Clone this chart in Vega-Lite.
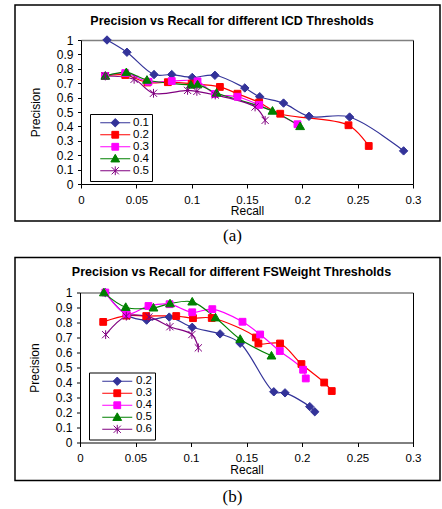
{
  "$schema": "https://vega.github.io/schema/vega-lite/v6.json",
  "padding": {"left": 14, "top": 4, "right": 0, "bottom": 0},
  "background": "white",
  "datasets": {
    "icd": [
      {"t": "0.1", "recall": 0.0235, "precision": 1.0},
      {"t": "0.1", "recall": 0.0415, "precision": 0.915},
      {"t": "0.1", "recall": 0.066, "precision": 0.76},
      {"t": "0.1", "recall": 0.082, "precision": 0.76},
      {"t": "0.1", "recall": 0.1005, "precision": 0.74},
      {"t": "0.1", "recall": 0.121, "precision": 0.755},
      {"t": "0.1", "recall": 0.148, "precision": 0.667},
      {"t": "0.1", "recall": 0.1615, "precision": 0.606},
      {"t": "0.1", "recall": 0.183, "precision": 0.562},
      {"t": "0.1", "recall": 0.206, "precision": 0.47},
      {"t": "0.1", "recall": 0.2427, "precision": 0.465},
      {"t": "0.1", "recall": 0.2915, "precision": 0.23},
      {"t": "0.2", "recall": 0.0217, "precision": 0.75},
      {"t": "0.2", "recall": 0.04, "precision": 0.757},
      {"t": "0.2", "recall": 0.06, "precision": 0.705},
      {"t": "0.2", "recall": 0.0785, "precision": 0.707},
      {"t": "0.2", "recall": 0.1, "precision": 0.697},
      {"t": "0.2", "recall": 0.1255, "precision": 0.674},
      {"t": "0.2", "recall": 0.1414, "precision": 0.627},
      {"t": "0.2", "recall": 0.161, "precision": 0.566},
      {"t": "0.2", "recall": 0.18, "precision": 0.488},
      {"t": "0.2", "recall": 0.2417, "precision": 0.408},
      {"t": "0.2", "recall": 0.26, "precision": 0.264},
      {"t": "0.3", "recall": 0.0217, "precision": 0.75},
      {"t": "0.3", "recall": 0.04, "precision": 0.77},
      {"t": "0.3", "recall": 0.061, "precision": 0.71},
      {"t": "0.3", "recall": 0.082, "precision": 0.715},
      {"t": "0.3", "recall": 0.1053, "precision": 0.713},
      {"t": "0.3", "recall": 0.121, "precision": 0.625},
      {"t": "0.3", "recall": 0.1414, "precision": 0.606},
      {"t": "0.3", "recall": 0.161, "precision": 0.549},
      {"t": "0.3", "recall": 0.1956, "precision": 0.415},
      {"t": "0.4", "recall": 0.022, "precision": 0.75},
      {"t": "0.4", "recall": 0.041, "precision": 0.775},
      {"t": "0.4", "recall": 0.0596, "precision": 0.722},
      {"t": "0.4", "recall": 0.0993, "precision": 0.688},
      {"t": "0.4", "recall": 0.1053, "precision": 0.69},
      {"t": "0.4", "recall": 0.1225, "precision": 0.632},
      {"t": "0.4", "recall": 0.173, "precision": 0.507},
      {"t": "0.4", "recall": 0.198, "precision": 0.4},
      {"t": "0.5", "recall": 0.022, "precision": 0.75},
      {"t": "0.5", "recall": 0.048, "precision": 0.727},
      {"t": "0.5", "recall": 0.0655, "precision": 0.63},
      {"t": "0.5", "recall": 0.0963, "precision": 0.65},
      {"t": "0.5", "recall": 0.1047, "precision": 0.643},
      {"t": "0.5", "recall": 0.1213, "precision": 0.618},
      {"t": "0.5", "recall": 0.1573, "precision": 0.535},
      {"t": "0.5", "recall": 0.1664, "precision": 0.442}
    ],
    "fsw": [
      {"t": "0.2", "recall": 0.0228, "precision": 1.0},
      {"t": "0.2", "recall": 0.0423, "precision": 0.849},
      {"t": "0.2", "recall": 0.06, "precision": 0.816},
      {"t": "0.2", "recall": 0.0804, "precision": 0.836},
      {"t": "0.2", "recall": 0.1011, "precision": 0.768},
      {"t": "0.2", "recall": 0.1262, "precision": 0.724},
      {"t": "0.2", "recall": 0.1443, "precision": 0.662},
      {"t": "0.2", "recall": 0.1746, "precision": 0.338},
      {"t": "0.2", "recall": 0.1847, "precision": 0.331},
      {"t": "0.2", "recall": 0.207, "precision": 0.239},
      {"t": "0.2", "recall": 0.2115, "precision": 0.205},
      {"t": "0.3", "recall": 0.0209, "precision": 0.804},
      {"t": "0.3", "recall": 0.042, "precision": 0.846},
      {"t": "0.3", "recall": 0.0597, "precision": 0.843},
      {"t": "0.3", "recall": 0.0867, "precision": 0.843},
      {"t": "0.3", "recall": 0.1018, "precision": 0.829},
      {"t": "0.3", "recall": 0.1187, "precision": 0.83},
      {"t": "0.3", "recall": 0.1584, "precision": 0.7},
      {"t": "0.3", "recall": 0.1607, "precision": 0.66},
      {"t": "0.3", "recall": 0.1802, "precision": 0.66},
      {"t": "0.3", "recall": 0.1995, "precision": 0.523},
      {"t": "0.3", "recall": 0.22, "precision": 0.4},
      {"t": "0.3", "recall": 0.2268, "precision": 0.343},
      {"t": "0.4", "recall": 0.0228, "precision": 1.0},
      {"t": "0.4", "recall": 0.042, "precision": 0.857},
      {"t": "0.4", "recall": 0.0617, "precision": 0.91},
      {"t": "0.4", "recall": 0.0807, "precision": 0.922},
      {"t": "0.4", "recall": 0.1011, "precision": 0.868},
      {"t": "0.4", "recall": 0.1192, "precision": 0.889},
      {"t": "0.4", "recall": 0.1464, "precision": 0.805},
      {"t": "0.4", "recall": 0.1623, "precision": 0.72},
      {"t": "0.4", "recall": 0.18, "precision": 0.61},
      {"t": "0.4", "recall": 0.201, "precision": 0.485},
      {"t": "0.4", "recall": 0.2034, "precision": 0.427},
      {"t": "0.5", "recall": 0.0215, "precision": 0.999},
      {"t": "0.5", "recall": 0.0412, "precision": 0.902},
      {"t": "0.5", "recall": 0.0662, "precision": 0.898},
      {"t": "0.5", "recall": 0.0811, "precision": 0.926},
      {"t": "0.5", "recall": 0.1011, "precision": 0.938},
      {"t": "0.5", "recall": 0.1221, "precision": 0.832},
      {"t": "0.5", "recall": 0.1443, "precision": 0.689},
      {"t": "0.5", "recall": 0.1725, "precision": 0.578},
      {"t": "0.6", "recall": 0.0231, "precision": 0.719},
      {"t": "0.6", "recall": 0.0417, "precision": 0.842},
      {"t": "0.6", "recall": 0.0621, "precision": 0.837},
      {"t": "0.6", "recall": 0.081, "precision": 0.772},
      {"t": "0.6", "recall": 0.1008, "precision": 0.72},
      {"t": "0.6", "recall": 0.1066, "precision": 0.631}
    ]
  },
  "vconcat": [
    {
      "width": 425,
      "height": 216,
      "data": {"name": "icd"},
      "title": {"text": "(a)", "orient": "bottom", "font": "Liberation Serif", "fontSize": 17, "fontWeight": "normal", "color": "#000", "offset": 7, "anchor": "middle", "frame": "group", "dx": 5},
      "layer": [
        {
          "mark": {"type": "line", "interpolate": "catmull-rom", "strokeWidth": 1.2},
          "encoding": {
            "x": {"field": "recall", "type": "quantitative",
              "scale": {"domain": [0, 0.3], "range": [66, 398], "nice": false, "zero": false},
              "axis": {"orient": "bottom", "offset": -37, "values": [0, 0.05, 0.1, 0.15, 0.2, 0.25, 0.3], "format": ".2~f", "tickSize": 4, "labelPadding": 6, "labelFontSize": 11.5, "title": "Recall", "titlePadding": 0, "labelFlush": false, "labelOverlap": false}},
            "y": {"field": "precision", "type": "quantitative",
              "scale": {"domain": [0, 1], "range": [179, 35], "nice": false, "zero": false},
              "axis": {"orient": "left", "offset": -66, "values": [0, 0.1, 0.2, 0.3, 0.4, 0.5, 0.6, 0.7, 0.8, 0.9, 1], "format": ".1~f", "tickSize": 3.5, "labelPadding": 4.5, "title": "Precision", "titlePadding": 14, "labelFlush": false, "labelOverlap": false}},
            "color": {"field": "t", "type": "nominal",
              "scale": {"range": ["#333399", "#ff0000", "#ff00ff", "#008000", "#800080"]},
              "legend": {"orient": "none", "legendX": 75, "legendY": 109, "title": null, "strokeColor": "#000", "fillColor": "#fff", "padding": 3, "symbolSize": 64, "symbolOffset": 16.5, "labelOffset": 12, "labelFontSize": 11.5, "labelFont": "Liberation Sans", "labelColor": "#000", "rowPadding": -2.4, "symbolStrokeWidth": 1,
                "encode": {"symbols": {"update": {
                  "shape": {"signal": "['M-3.75,0H3.75M0,-1.05L1.05,0L0,1.05L-1.05,0Z','M-3.75,0H3.75M-0.85,-0.85H0.85V0.85H-0.85Z','M-3.75,0H3.75M-0.85,-0.85H0.85V0.85H-0.85Z','M-3.75,0H3.75M0,-1.1L1.1,0.8L-1.1,0.8Z','M-3.75,0H3.75M-0.9,-0.9L0.9,0.9M-0.9,0.9L0.9,-0.9M0,-1.1V1.1'][datum.index]"},
                  "stroke": {"signal": "['#333399','#ff0000','#ff00ff','#008000','#800080'][datum.index]"},
                  "fill": {"signal": "['#333399','#ff0000','#ff00ff','#008000','#800080'][datum.index]"},
                  "strokeWidth": {"value": 1},
                  "opacity": {"value": 1},
                  "size": {"value": 64}
                }}}}}
          }
        },
        {
          "mark": {"type": "point", "filled": true, "size": 64, "strokeWidth": 1, "opacity": 1},
          "encoding": {
            "x": {"field": "recall", "type": "quantitative",
              "axis": {"orient": "top", "offset": -35, "ticks": false, "labels": false, "domainColor": "#808080", "domainWidth": 1.5, "title": "Precision vs Recall for different ICD Thresholds", "titleFontWeight": "bold", "titleFontSize": 12.5, "titleBaseline": "alphabetic", "titlePadding": 16, "titleX": 216.5, "titleAlign": "center"}},
            "y": {"field": "precision", "type": "quantitative",
              "axis": {"orient": "right", "offset": -27, "ticks": false, "labels": false, "domainColor": "#000", "title": null}},
            "color": {"field": "t", "type": "nominal"},
            "stroke": {"field": "t", "type": "nominal", "scale": {"range": ["#333399", "#ff0000", "#ff00ff", "#008000", "#800080"]}, "legend": null},
            "shape": {"field": "t", "type": "nominal", "scale": {"range": ["M0,-1.05L1.05,0L0,1.05L-1.05,0Z", "M-0.85,-0.85H0.85V0.85H-0.85Z", "M-0.85,-0.85H0.85V0.85H-0.85Z", "M0,-1.1L1.1,0.8L-1.1,0.8Z", "M-0.9,-0.9L0.9,0.9M-0.9,0.9L0.9,-0.9M0,-1.1V1.1"]}, "legend": null}
          }
        }
      ]
    },
    {
      "width": 425,
      "height": 223,
      "data": {"name": "fsw"},
      "title": {"text": "(b)", "orient": "bottom", "font": "Liberation Serif", "fontSize": 17, "fontWeight": "normal", "color": "#000", "offset": 8, "anchor": "middle", "frame": "group", "dx": 5},
      "layer": [
        {
          "mark": {"type": "line", "interpolate": "catmull-rom", "strokeWidth": 1.2},
          "encoding": {
            "x": {"field": "recall", "type": "quantitative",
              "scale": {"domain": [0, 0.3], "range": [65, 398], "nice": false, "zero": false},
              "axis": {"orient": "bottom", "offset": -38, "values": [0, 0.05, 0.1, 0.15, 0.2, 0.25, 0.3], "format": ".2~f", "tickSize": 4, "labelPadding": 6, "labelFontSize": 11.5, "title": "Recall", "titlePadding": 0, "labelFlush": false, "labelOverlap": false}},
            "y": {"field": "precision", "type": "quantitative",
              "scale": {"domain": [0, 1], "range": [185, 35], "nice": false, "zero": false},
              "axis": {"orient": "left", "offset": -65, "values": [0, 0.1, 0.2, 0.3, 0.4, 0.5, 0.6, 0.7, 0.8, 0.9, 1], "format": ".1~f", "tickSize": 3.5, "labelPadding": 4.5, "title": "Precision", "titlePadding": 14, "labelFlush": false, "labelOverlap": false}},
            "color": {"field": "t", "type": "nominal",
              "scale": {"range": ["#333399", "#ff0000", "#ff00ff", "#008000", "#800080"]},
              "legend": {"orient": "none", "legendX": 74, "legendY": 115, "title": null, "strokeColor": "#000", "fillColor": "#fff", "padding": 3, "symbolSize": 64, "symbolOffset": 19.5, "labelOffset": 13, "labelFontSize": 11.5, "labelFont": "Liberation Sans", "labelColor": "#000", "rowPadding": -2.1, "symbolStrokeWidth": 1,
                "encode": {"symbols": {"update": {
                  "shape": {"signal": "['M-3.75,0H3.75M0,-1.05L1.05,0L0,1.05L-1.05,0Z','M-3.75,0H3.75M-0.85,-0.85H0.85V0.85H-0.85Z','M-3.75,0H3.75M-0.85,-0.85H0.85V0.85H-0.85Z','M-3.75,0H3.75M0,-1.1L1.1,0.8L-1.1,0.8Z','M-3.75,0H3.75M-0.9,-0.9L0.9,0.9M-0.9,0.9L0.9,-0.9M0,-1.1V1.1'][datum.index]"},
                  "stroke": {"signal": "['#333399','#ff0000','#ff00ff','#008000','#800080'][datum.index]"},
                  "fill": {"signal": "['#333399','#ff0000','#ff00ff','#008000','#800080'][datum.index]"},
                  "strokeWidth": {"value": 1},
                  "opacity": {"value": 1},
                  "size": {"value": 64}
                }}}}}
          }
        },
        {
          "mark": {"type": "point", "filled": true, "size": 64, "strokeWidth": 1, "opacity": 1},
          "encoding": {
            "x": {"field": "recall", "type": "quantitative",
              "axis": {"orient": "top", "offset": -35, "ticks": false, "labels": false, "domainColor": "#808080", "domainWidth": 1.5, "title": "Precision vs Recall for different FSWeight Thresholds", "titleFontWeight": "bold", "titleFontSize": 12.5, "titleBaseline": "alphabetic", "titlePadding": 17.4, "titleX": 216, "titleAlign": "center"}},
            "y": {"field": "precision", "type": "quantitative",
              "axis": {"orient": "right", "offset": -27, "ticks": false, "labels": false, "domainColor": "#000", "title": null}},
            "color": {"field": "t", "type": "nominal"},
            "stroke": {"field": "t", "type": "nominal", "scale": {"range": ["#333399", "#ff0000", "#ff00ff", "#008000", "#800080"]}, "legend": null},
            "shape": {"field": "t", "type": "nominal", "scale": {"range": ["M0,-1.05L1.05,0L0,1.05L-1.05,0Z", "M-0.85,-0.85H0.85V0.85H-0.85Z", "M-0.85,-0.85H0.85V0.85H-0.85Z", "M0,-1.1L1.1,0.8L-1.1,0.8Z", "M-0.9,-0.9L0.9,0.9M-0.9,0.9L0.9,-0.9M0,-1.1V1.1"]}, "legend": null}
          }
        }
      ]
    }
  ],
  "spacing": 11.5,
  "resolve": {
    "scale": {"x": "independent", "y": "independent", "color": "independent", "stroke": "independent", "shape": "independent"},
    "legend": {"color": "independent", "stroke": "independent", "shape": "independent"}
  },
  "config": {
    "view": {"stroke": "#000", "strokeWidth": 1.5},
    "font": "Liberation Sans",
    "axis": {"grid": false, "labelFont": "Liberation Sans", "labelFontSize": 12, "labelColor": "#000", "titleFont": "Liberation Sans", "titleFontSize": 12, "titleFontWeight": "normal", "titleColor": "#000", "domainColor": "#000", "tickColor": "#000"}
  }
}
